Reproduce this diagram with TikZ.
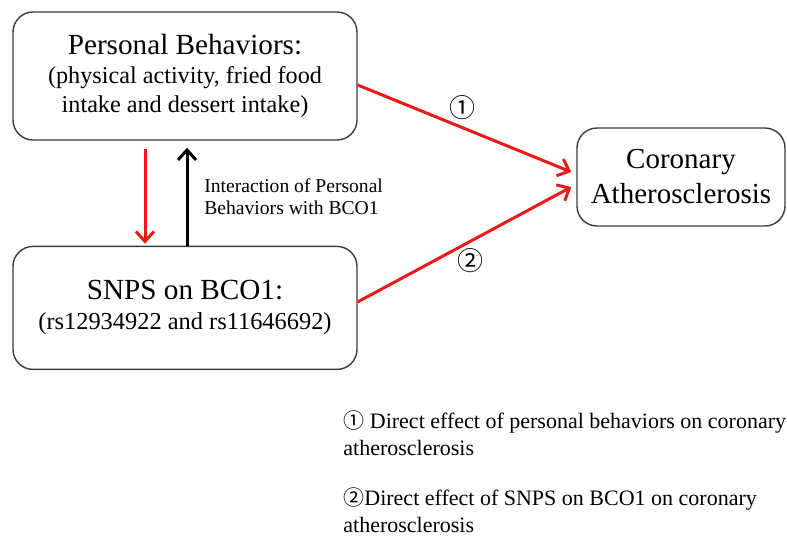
\documentclass[tikz,border=0pt]{standalone}
\usepackage{fontspec}
\setmainfont{Liberation Serif}
\newfontfamily\circfont{Noto Sans CJK SC}
\usetikzlibrary{positioning,quotes,arrows.meta}
\definecolor{myred}{RGB}{235,25,25}
\definecolor{mygray}{RGB}{60,60,60}

\begin{document}
\begin{tikzpicture}[x=0.5pt,y=-0.5pt,
  box/.style={draw=mygray,line width=0.7pt,rounded corners=10pt,align=center,inner sep=0pt},
  redarr/.style={draw=myred,line width=1.5pt,-{Straight Barb[length=5pt,width=9pt]}},
  blkarr/.style={draw=black,line width=1.5pt,-{Straight Barb[length=5pt,width=9pt]}},
  numlab/.style={font=\circfont\fontsize{13}{13}\selectfont,inner sep=1pt},
  subfont/.style={font=\fontsize{12.1}{14.5}\selectfont},
  legfont/.style={font=\fontsize{11}{13.5}\selectfont,align=left,inner sep=0pt}]

  \useasboundingbox (0,0) rectangle (787,537);

  \node[box,subfont,minimum width=172pt,minimum height=64pt] (behav) at (185,76)
    {{\fontsize{14.6}{14.5}\selectfont Personal Behaviors:}\\
     (physical activity, fried food\\
     intake and dessert intake)};

  \node[box,font=\fontsize{12.2}{15}\selectfont,minimum width=172pt,minimum height=61.5pt,
    below=52.5pt of behav] (snps)
    {{\fontsize{14.6}{15}\selectfont SNPS on BCO1:}\\
     (rs12934922 and rs11646692)};

  \node[box,font=\fontsize{14.5}{17.5}\selectfont,minimum width=104pt,minimum height=49pt]
    (coron) at (681,177) {Coronary\\Atherosclerosis};

  % arrows between the two left boxes
  \draw[redarr] ([xshift=-20pt,yshift=-4pt]behav.south) -- ([xshift=-20pt,yshift=1pt]snps.north);
  \draw[blkarr] ([xshift=1pt]snps.north) -- ([xshift=1pt,yshift=-3.5pt]behav.south);

  \node[anchor=west,align=left,inner sep=0pt,font=\fontsize{9.8}{11}\selectfont]
    (interact) at (204,197) {Interaction of Personal\\Behaviors with BCO1};

  % direct effects
  \draw ([yshift=-4.5pt]behav.east) edge[redarr,"①" {numlab,above=2pt,pos=0.49}]
    ([xshift=-2.5pt,yshift=2.5pt]coron.west)
  ([yshift=3pt]snps.east) edge[redarr,"②" {numlab,below=2pt,pos=0.53}]
    ([xshift=-2.5pt,yshift=-5pt]coron.west);

  % legend
  \node[legfont,anchor=north west] (leg1) at (343,410)
    {{\circfont\fontsize{10.5}{13.5}\selectfont ①} Direct effect of personal behaviors on coronary\\
     atherosclerosis};
  \node[legfont,anchor=north west] (leg2) at (343,487)
    {{\circfont\fontsize{10.5}{13.5}\selectfont ②}Direct effect of SNPS on BCO1 on coronary\\
     atherosclerosis};

\end{tikzpicture}
\end{document}
